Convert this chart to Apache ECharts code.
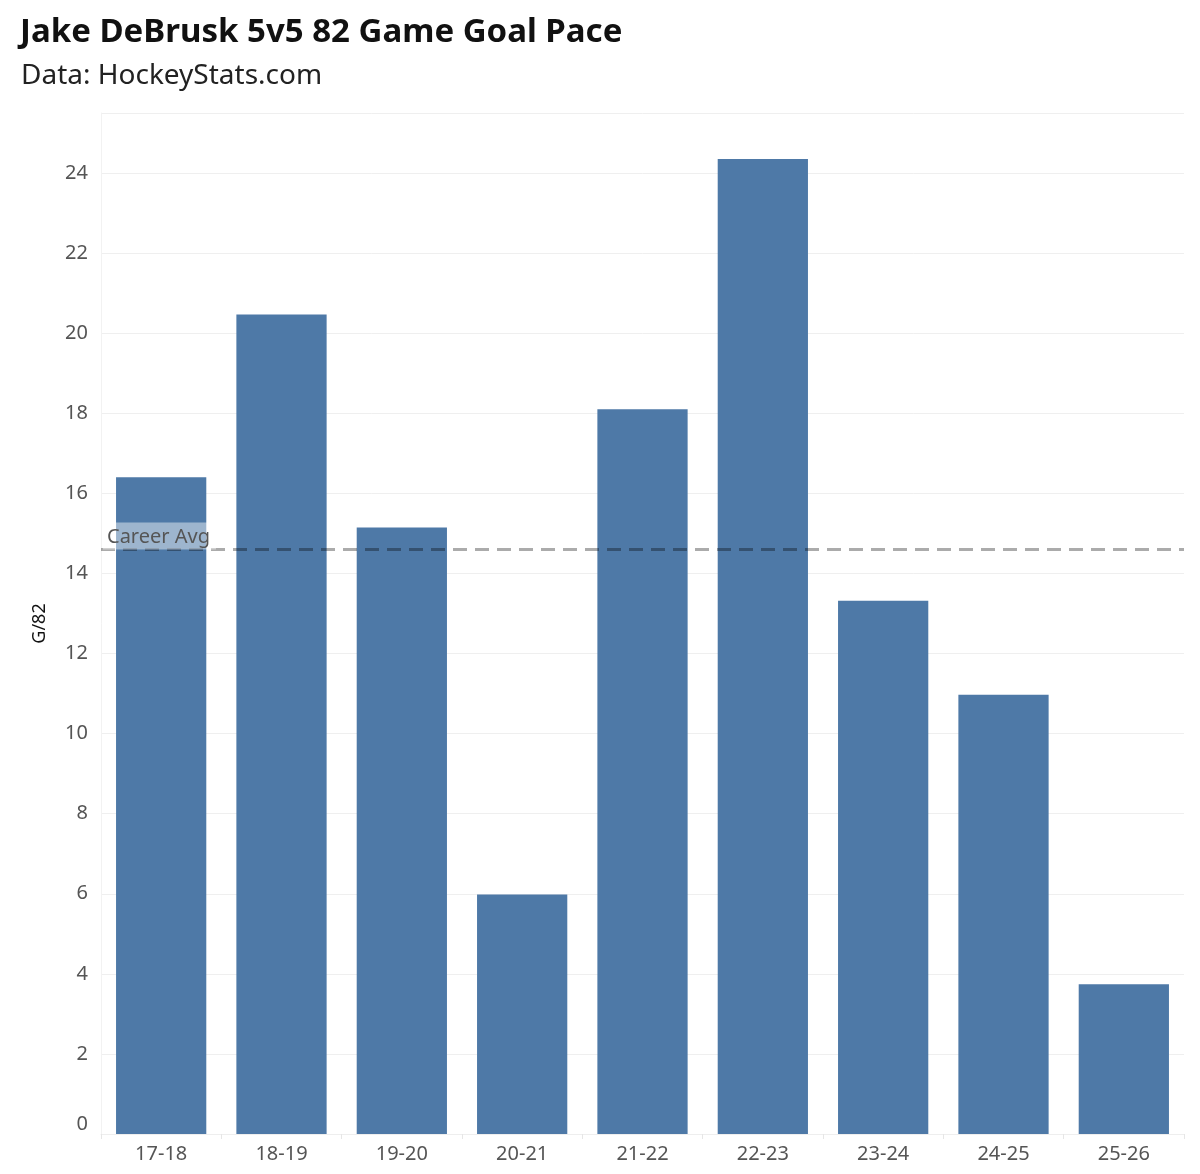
<!DOCTYPE html>
<html>
<head>
<meta charset="utf-8">
<script src="https://cdn.jsdelivr.net/npm/echarts@6/dist/echarts.min.js"></script>
<style>html,body{margin:0;padding:0;background:#fff;}#c{width:1200px;height:1174px;}</style>
</head>
<body>
<div id="c"></div>
<script>
const seasons = ['17-18','18-19','19-20','20-21','21-22','22-23','23-24','24-25','25-26'];
const goalPace = [16.4, 20.47, 15.15, 5.98, 18.1, 24.35, 13.32, 10.97, 3.74];
const careerAvg = 14.6;
const yTicks = [0,2,4,6,8,10,12,14,16,18,20,22,24];

const chart = echarts.init(document.getElementById('c'), null, {renderer:'canvas'});
const font = 'Noto Sans';
chart.setOption({
  animation: false,
  backgroundColor: '#fff',
  title: [
    {text: 'Jake DeBrusk 5v5 82 Game Goal Pace', left: 15, top: 11,
     textStyle: {fontFamily: font, fontSize: 33, fontWeight: 'bold', color: '#111'}},
    {text: 'Data: HockeyStats.com', left: 16, top: 57,
     textStyle: {fontFamily: font, fontSize: 28, fontWeight: 'normal', color: '#222'}}
  ],
  grid: {left: 101, right: 16, top: 113, bottom: 40, containLabel: false},
  xAxis: {
    type: 'category', data: seasons,
    axisLine: {show: true, lineStyle: {color: '#eeeeee', width: 1}},
    axisTick: {show: true, lineStyle: {color: '#e6e6e6'}, length: 5},
    axisLabel: {fontFamily: font, fontSize: 20, color: '#555', margin: 10}
  },
  yAxis: {
    type: 'value', min: 0, max: 25.5, interval: 2,
    name: 'G/82', nameLocation: 'middle', nameGap: 52, nameRotate: 90,
    nameTextStyle: {fontFamily: font, fontSize: 18, color: '#111'},
    axisLine: {show: true, lineStyle: {color: '#f2f2f2'}},
    axisTick: {show: false},
    splitLine: {show: true, lineStyle: {color: '#efefef', width: 1}},
    axisLabel: {fontFamily: font, fontSize: 20, color: '#555', margin: 13,
      verticalAlignMinLabel: 'bottom',
      formatter: v => yTicks.includes(v) ? String(v) : ''}
  },
  series: [{
    type: 'bar', data: goalPace, barWidth: '75%',
    itemStyle: {color: '#4e79a7'},
    markLine: {
      silent: true, symbol: 'none',
      data: [{yAxis: careerAvg}],
      lineStyle: {type: [14, 8], color: 'rgba(0,0,0,0.33)', width: 3},
      label: {show: true, position: 'insideStartTop', formatter: 'Career Avg',
        fontFamily: font, fontSize: 20, color: '#555',
        backgroundColor: 'rgba(255,255,255,0.45)',
        padding: [5, 6, 2, 4], distance: [2, 0]}
    }
  }]
});
</script>
</body>
</html>
